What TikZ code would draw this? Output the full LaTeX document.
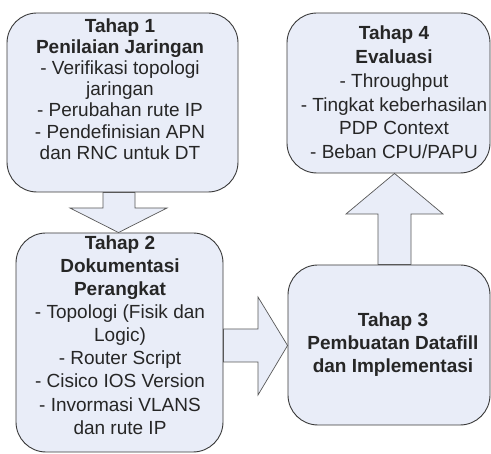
\documentclass[tikz,border=0pt]{standalone}
\usepackage{fontspec}
\setmainfont{Liberation Sans}
\usetikzlibrary{calc}
\definecolor{boxfill}{RGB}{233,237,248}
\definecolor{boxline}{RGB}{58,58,58}
\definecolor{txt}{RGB}{38,38,38}
\begin{document}
\begin{tikzpicture}[x=1pt,y=-1pt,
  stagebox/.style={draw=boxline,fill=boxfill,line width=0.9pt,rounded corners=30pt,
    rectangle,inner sep=0pt},
  stagetext/.style={text=txt,align=center,inner sep=0pt},
  blockarrow/.style={draw=boxline!85,fill=boxfill,line width=0.7pt,line join=miter}]
\useasboundingbox (0,0) rectangle (491,454);
\fill[white] (0,0) rectangle (491,454);
% boxes
\node[stagebox,minimum width=231pt,minimum height=179pt] (b1) at (122.5,102.5) {};
\node[stagebox,minimum width=207pt,minimum height=219pt] (b2) at (119.5,342.5) {};
\node[stagebox,minimum width=202pt,minimum height=160pt] (b3) at (389,345) {};
\node[stagebox,minimum width=203pt,minimum height=160pt] (b4) at (388.5,93) {};
% arrows
\draw[blockarrow] (103,0 |- b1.south) -- (103,208) -- (70,208) -- (118.5,0 |- b2.north)
  -- (167,208) -- (135,208) -- (135,0 |- b1.south) -- cycle;
\draw[blockarrow] (b2.east |- 0,329) -- (258,329) -- (258,297) -- (b3.west |- 0,345.5)
  -- (258,395) -- (258,362) -- (b2.east |- 0,362) -- cycle;
\draw[blockarrow] (378,0 |- b3.north) -- (378,214) -- (346,214) -- (394.5,0 |- b4.south)
  -- (443,214) -- (411,214) -- (411,0 |- b3.north) -- cycle;
% texts
\node[stagetext,font=\fontsize{19}{21.2}\selectfont] (t1) at (120,89)
  {\textbf{Tahap 1}\\\textbf{Penilaian Jaringan}\\- Verifikasi topologi\\jaringan\\- Perubahan rute IP\\- Pendefinisian APN\\dan RNC untuk DT};
\node[stagetext,font=\fontsize{19}{23.1}\selectfont] (t2) at (120,335)
  {\textbf{Tahap 2}\\\textbf{Dokumentasi}\\\textbf{Perangkat}\\- Topologi (Fisik dan\\Logic)\\- Router Script\\- Cisico IOS Version\\- Invormasi VLANS\\dan rute IP};
\node[stagetext,font=\fontsize{19}{23}\selectfont] (t3) at (393,345)
  {\textbf{Tahap 3}\\\textbf{Pembuatan Datafill}\\\textbf{dan Implementasi}};
\node[stagetext,font=\fontsize{19}{23.8}\selectfont] (t4) at (394,92.5)
  {\textbf{Tahap 4}\\\textbf{Evaluasi}\\- Throughput\\- Tingkat keberhasilan\\PDP Context\\- Beban CPU/PAPU};
\end{tikzpicture}
\end{document}
